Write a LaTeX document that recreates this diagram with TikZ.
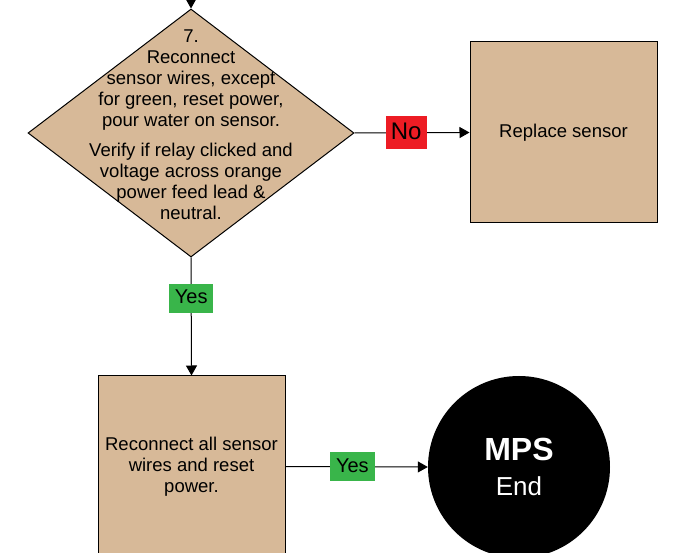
\documentclass[tikz,border=0pt]{standalone}
\usepackage{fontspec}
\setmainfont{Liberation Sans}
\usetikzlibrary{arrows.meta, shapes.geometric}

\definecolor{tanfill}{RGB}{215,185,152}
\definecolor{nored}{RGB}{237,28,36}
\definecolor{yesgreen}{RGB}{57,181,74}

\begin{document}
\begin{tikzpicture}[
  x=1pt, y=-1pt,
  action/.style={rectangle, draw, fill=tanfill, line width=1pt, minimum width=187pt, minimum height=181pt, align=center, font=\fontsize{18.5pt}{21pt}\selectfont},
  decision/.style={diamond, draw, fill=tanfill, line width=1pt, minimum width=326pt, minimum height=248pt, inner sep=0pt},
  terminal/.style={circle, fill=black, minimum size=182pt, text=white, align=center, font=\fontsize{26pt}{35pt}\selectfont},
  yeslbl/.style={fill=yesgreen, font=\fontsize{20pt}{20pt}\selectfont, text height=14pt, text depth=3pt, inner xsep=6pt, inner ysep=6pt},
  nolbl/.style={fill=nored, font=\fontsize{24pt}{24pt}\selectfont, text height=17pt, text depth=3pt, inner xsep=5pt, inner ysep=6.5pt},
  flow/.style={-{Triangle[length=10pt,width=11pt]}, line width=1pt}
]
  \useasboundingbox (0,0) rectangle (681,553);

  \coordinate (above) at (191,-20);
  \node[decision] (q7) at (191,133) {};
  \node[align=center, font=\fontsize{18.5pt}{21pt}\selectfont] (q7text) at (191,125)
    {7.\\Reconnect\\sensor wires, except\\for green, reset power,\\pour water on sensor.\\[9pt]
     Verify if relay clicked and\\voltage across orange\\power feed lead \&\\neutral.};

  \node[action] (replace) at (563.5,132.5) {Replace sensor};
  \node[action] (reconnect) at (191.5,466.5) {Reconnect all sensor\\wires and reset\\power.};
  \node[terminal] (done) at (519,467) {{\fontsize{32pt}{35pt}\selectfont\bfseries MPS}\\End};

  \draw[flow] (above) -- (q7.north);
  \draw[flow] (q7.east) -- node[pos=0.45, nolbl] {No} (replace.west);
  \draw[flow] (q7.south) -- node[pos=0.345, yeslbl] {Yes} (reconnect.north);
  \draw[flow] (reconnect.east) -- node[pos=0.47, yeslbl] {Yes} (done.west);
\end{tikzpicture}
\end{document}
